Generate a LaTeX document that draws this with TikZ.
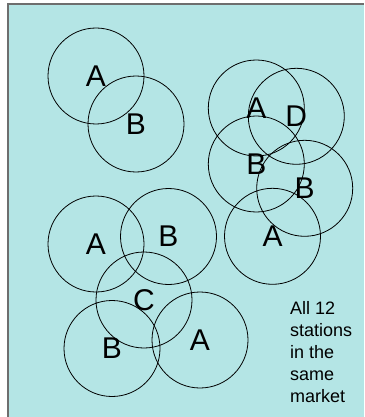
\documentclass[tikz,border=0pt]{standalone}
\usepackage{fontspec}
\setmainfont{Liberation Sans}
\definecolor{bgcyan}{RGB}{180,229,229}
\definecolor{frame}{RGB}{110,110,110}
\tikzset{
  station/.style={circle, draw=black, line width=0.8pt, minimum size=96pt, inner sep=0pt,
    font=\fontsize{30}{36}\selectfont},
}
\begin{document}
\begin{tikzpicture}[x=1pt,y=-1pt]
\useasboundingbox (0,0) rectangle (364,417);
\fill[bgcyan] (8,4) rectangle (364,417);
\draw[frame, line width=1.2pt] (8,417) -- (8,4) -- (364,4);
% top-left pair
\node[station] (a1) at (96,76) {A};
\node[station] (b1) at (136,124) {B};
% right cluster
\node[station] (a2) at (256.3,108) {A};
\node[station] (d2) at (296.3,116.3) {D};
\node[station] (b2) at (256.3,164) {B};
\node[station] (b3) at (304.7,188.3) {B};
\node[station] (a3) at (272.5,236.3) {A};
% lower-left cluster
\node[station] (a4) at (96,244) {A};
\node[station] (b4) at (168.5,236.5) {B};
\node[station] (c4) at (144,300) {C};
\node[station] (b5) at (112,348.5) {B};
\node[station] (a5) at (200,340) {A};
% note
\node[anchor=north west, inner sep=0pt, align=left,
  font=\fontsize{18}{22}\selectfont] (note) at (290,301.5)
  {All 12\\stations\\in the\\same\\market};
\end{tikzpicture}
\end{document}
